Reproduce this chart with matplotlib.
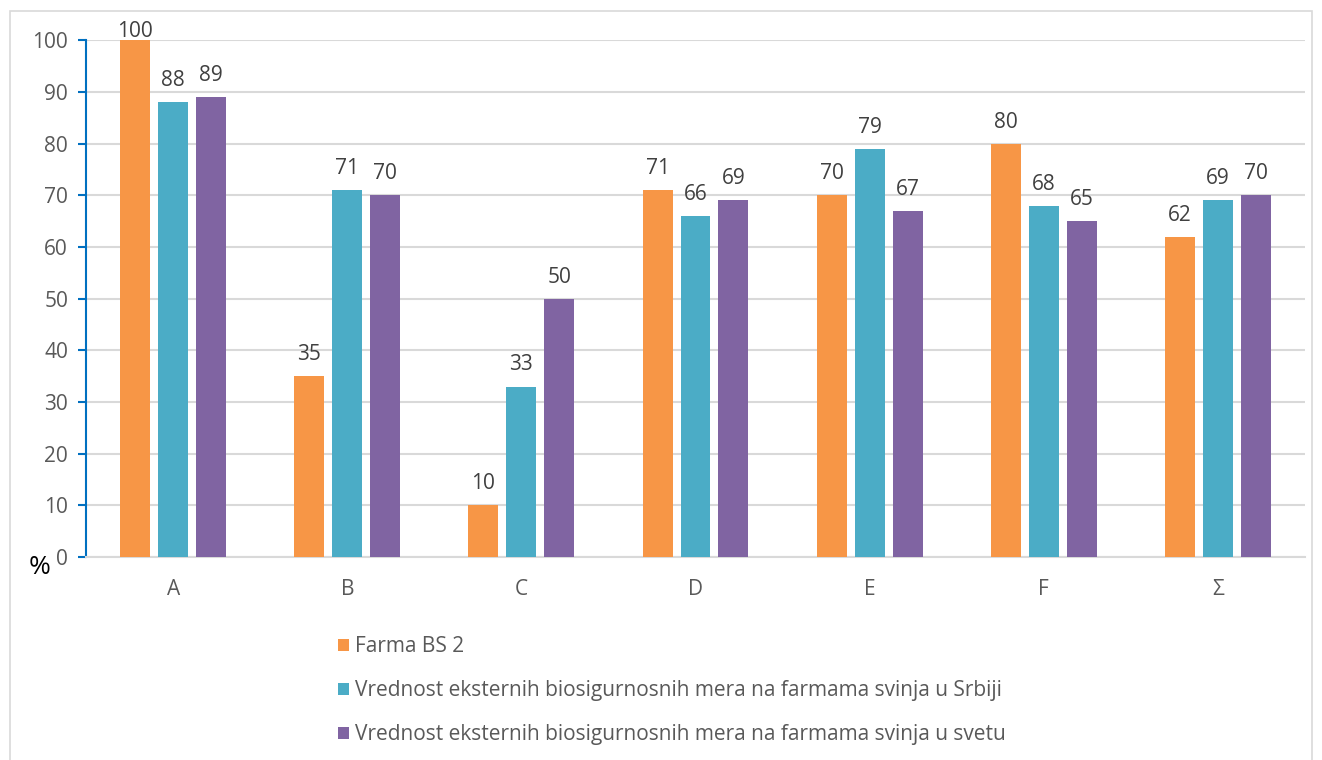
import numpy as np
import matplotlib.pyplot as plt
from matplotlib.patches import Rectangle

plt.rcParams['font.family'] = ['Open Sans', 'DejaVu Sans']

categories = ['A', 'B', 'C', 'D', 'E', 'F', 'Σ']
farma = [100, 35, 10, 71, 70, 80, 62]
srbija = [88, 71, 33, 66, 79, 68, 69]
svet = [89, 70, 50, 69, 67, 65, 70]
series_names = ['Farma BS 2',
                'Vrednost eksternih biosigurnosnih mera na farmama svinja u Srbiji',
                'Vrednost eksternih biosigurnosnih mera na farmama svinja u svetu']
colors = ['#F79646', '#4BACC6', '#8064A2']

fig = plt.figure(figsize=(13.22, 7.6), dpi=100)
ax = fig.add_axes([0.0651, 0.267, 0.922, 0.68])

# chart area border
fig.patches.append(Rectangle((10/1322, -0.1), 1302/1322, 1.1 - 11/760,
                             transform=fig.transFigure, fill=False,
                             edgecolor='#D9D9D9', lw=1.2))

x = np.arange(len(categories))
w = 0.172
step = 0.218
for k, (vals, c, name) in enumerate(zip([farma, srbija, svet], colors, series_names)):
    bars = ax.bar(x + (k - 1) * step, vals, w, color=c, label=name, zorder=3)
    for b, v in zip(bars, vals):
        off = -1 if v >= 100 else 8
        ax.annotate(str(v), (b.get_x() + b.get_width() / 2, v),
                    xytext=(0, off), textcoords='offset points',
                    ha='center', va='bottom', fontsize=15, color='#404040',
                    annotation_clip=False)

ax.set_xlim(-0.5, 6.5)
ax.set_ylim(0, 100)
ax.set_yticks(range(0, 101, 10))
ax.set_xticks(x)
ax.set_xticklabels(categories)
ax.yaxis.grid(True, color='#D9D9D9', lw=1.5, zorder=0)
ax.set_axisbelow(True)

for s in ['top', 'right']:
    ax.spines[s].set_visible(False)
ax.spines['bottom'].set_color('#D9D9D9')
ax.spines['bottom'].set_linewidth(1.5)
ax.spines['left'].set_color('#0070C0')
ax.spines['left'].set_linewidth(1.5)
ax.tick_params(axis='y', colors='#0070C0', length=6, width=1.5, labelcolor='#595959',
               labelsize=15, pad=7)
ax.tick_params(axis='x', length=0, labelcolor='#595959', labelsize=15, pad=16)

fig.text(40/1322, 1 - 567/760, '%', fontsize=19, color='black', ha='center', va='center')

fig.legend(loc='upper left', bbox_to_anchor=(330/1322, 1 - 628/760), frameon=False,
           fontsize=15, labelcolor='#595959', handlelength=0.5, handleheight=0.5,
           handletextpad=0.3, labelspacing=1.1, borderaxespad=0)

fig.savefig('out.png', dpi=100)
